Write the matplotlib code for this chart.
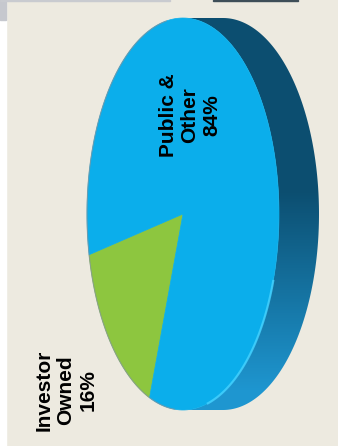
import numpy as np
import matplotlib.pyplot as plt
from matplotlib.patches import Polygon, Rectangle

categories = ['Investor\nOwned', 'Public &\nOther']
shares = [16, 84]
colors = ['#8DC63F', '#0BAEEB']
label_pos = [(66, 390), (190, 115)]

BG = '#EDEAE0'

# disc geometry in pixels: top face ellipse, depth pushed to the right
cx, cy = 183, 214
rx, ry = 96, 196
depth = 40
start_angle = 192.0


def ellipse_pts(t, dx=0.0):
    t = np.radians(t)
    return np.column_stack([cx + dx + rx * np.cos(t), cy - ry * np.sin(t)])


fig = plt.figure(figsize=(3.38, 4.46), dpi=100)
fig.patch.set_facecolor(BG)
ax = fig.add_axes([0, 0, 1, 1])

# window chrome around the slide
ax.add_patch(Rectangle((0, 0), 6, 446, color='white', zorder=0))
ax.add_patch(Rectangle((0, 0), 6, 20, color='#C6C8CE', zorder=0))
ax.add_patch(Rectangle((0, 0), 170, 1, color='#C9CBD0', zorder=0))
ax.add_patch(Rectangle((213, 0), 85, 1, color='#3E4E58', zorder=0))

# side wall: outline of top ellipse swept by the depth
t = np.linspace(-90, 90, 200)
right = ellipse_pts(t, depth)
left = ellipse_pts(t[::-1], 0)
side = Polygon(np.vstack([right, left]), closed=True, facecolor='none',
               edgecolor='none', zorder=1)
ax.add_patch(side)

k = np.clip((np.arange(446) - 190) / 200.0, 0, 1)[:, None]
dark = np.array([12, 78, 112]) / 255.0
light = np.array([30, 150, 208]) / 255.0
grad = dark[None, :] * (1 - k) + light[None, :] * k
img = np.repeat(grad[:, None, :], 338, axis=1)
im = ax.imshow(img, extent=(0, 338, 446, 0), aspect='auto', zorder=1,
               interpolation='bilinear')
im.set_clip_path(side)

# top face wedges
angles = start_angle + np.cumsum([0] + shares) / sum(shares) * 360.0
for i, share in enumerate(shares):
    tt = np.linspace(angles[i], angles[i + 1], 200)
    pts = np.vstack([[cx, cy], ellipse_pts(tt)])
    ax.add_patch(Polygon(pts, closed=True, facecolor=colors[i],
                         edgecolor=colors[i], lw=0.5, zorder=2))

# soft rim on the lit edge and shadow on the far edge
rim = ellipse_pts(np.linspace(-75, -20, 100))
ax.plot(rim[:, 0], rim[:, 1], color='#45D2FF', lw=1.6, alpha=0.8, zorder=3)
edge = ellipse_pts(np.linspace(100, 265, 200))
ax.plot(edge[:, 0], edge[:, 1], color='#7F939C', lw=0.8, alpha=0.7, zorder=3)

for cat, share, (x, y) in zip(categories, shares, label_pos):
    ax.text(x, y, f'{cat}\n{share}%', rotation=90, ha='center', va='center',
            multialignment='center', fontsize=15, fontweight='bold',
            family='Liberation Sans', linespacing=1.2, zorder=4)

ax.set_xlim(0, 338)
ax.set_ylim(446, 0)
ax.axis('off')

fig.savefig('out.png', dpi=100, facecolor=BG)
